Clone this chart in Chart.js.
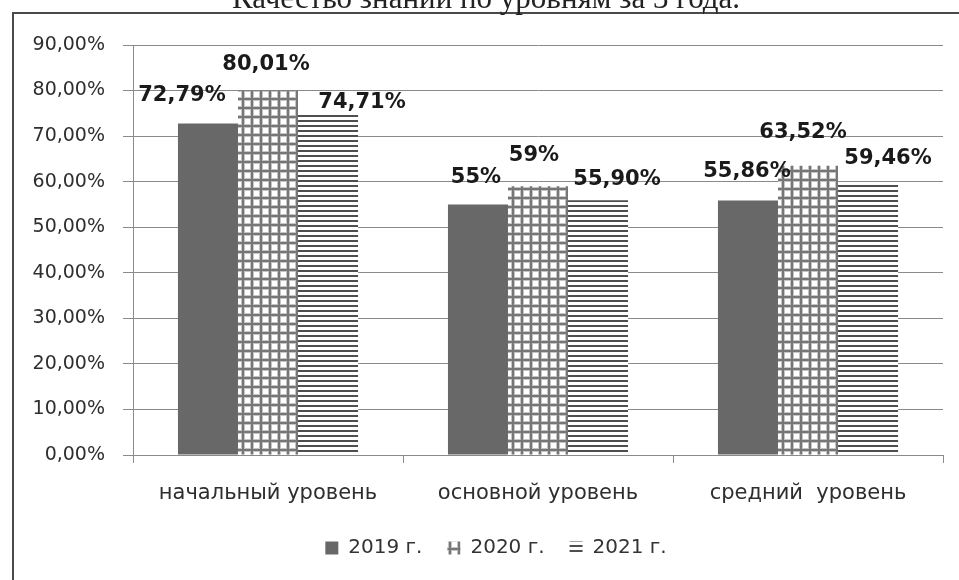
<!DOCTYPE html>
<html lang="ru">
<head>
<meta charset="utf-8">
<title>Качество знаний по уровням за 3 года</title>
<script src="https://cdn.jsdelivr.net/npm/chart.js@4.4.1/dist/chart.umd.min.js"></script>
<style>
    html, body { margin: 0; padding: 0; background: #fff; }
    canvas { display: block; }
</style>
</head>
<body>
<canvas id="chart" width="959" height="580"></canvas>
<script>
(function () {
    "use strict";

    // data
    const chartTitle = "Качество знаний по уровням за 3 года.";
    const levels = ["начальный уровень", "основной уровень", "средний  уровень"];
    const years = ["2019 г.", "2020 г.", "2021 г."];
    const values2019 = [72.79, 55, 55.86];
    const values2020 = [80.01, 59, 63.52];
    const values2021 = [74.71, 55.9, 59.46];
    const yMax = 90;
    const yStep = 10;

    // where each value label sits relative to its bar top: [dx, up]
    const labelShift = [
        [[-26, 28], [-2, 27], [-1, 29]],
        [[-2, 26], [-4, 31], [-5, 33]],
        [[34, 12], [19, 21], [20, 26]],
    ];

    const axisFont = "'DejaVu Sans', sans-serif";

    function formatValue(v) {
        const r = Math.round(v * 100) / 100;
        if (Number.isInteger(r)) return r + "%";
        return r.toFixed(2).replace(".", ",") + "%";
    }

    function makePattern(w, h, paint) {
        const c = document.createElement("canvas");
        c.width = w;
        c.height = h;
        paint(c.getContext("2d"));
        return document.getElementById("chart").getContext("2d").createPattern(c, "repeat");
    }

    // checkered fill for 2020
    const checks = makePattern(9, 9, (g) => {
        g.fillStyle = "#767676";
        g.fillRect(0, 0, 9, 9);
        g.fillStyle = "#c4c4c4";
        g.fillRect(1, 1, 7, 7);
        g.fillStyle = "#ffffff";
        g.fillRect(2, 2, 5, 5);
    });

    // horizontal lines for 2021
    const stripes = makePattern(4, 5, (g) => {
        g.fillStyle = "#ffffff";
        g.fillRect(0, 0, 4, 5);
        g.fillStyle = "#4e4e4e";
        g.fillRect(0, 0, 4, 2);
    });

    const sheet = {
        id: "sheet",
        beforeDraw(chart) {
            const ctx = chart.ctx;
            ctx.save();
            ctx.fillStyle = "#ffffff";
            ctx.fillRect(0, 0, chart.width, chart.height);
            ctx.strokeStyle = "#4a4a4a";
            ctx.lineWidth = 2;
            ctx.strokeRect(13, 13, chart.width + 20, chart.height + 20);
            ctx.font = "31px 'Liberation Serif', serif";
            ctx.fillStyle = "#222222";
            ctx.textAlign = "center";
            ctx.textBaseline = "alphabetic";
            ctx.fillText(chartTitle, 486, 8);
            ctx.restore();
        },
    };

    // legend in the scan sits a little right of centre
    const legendNudge = {
        id: "legendNudge",
        afterLayout(chart) {
            chart.legend.left += 18;
            chart.legend.right += 18;
        },
    };

    const valueLabels = {
        id: "valueLabels",
        afterDatasetsDraw(chart) {
            const ctx = chart.ctx;
            ctx.save();
            ctx.font = "bold 21px " + axisFont;
            ctx.fillStyle = "#1a1a1a";
            ctx.textAlign = "center";
            ctx.textBaseline = "middle";
            chart.data.datasets.forEach((ds, i) => {
                chart.getDatasetMeta(i).data.forEach((bar, j) => {
                    const [dx, up] = labelShift[i][j];
                    ctx.fillText(formatValue(ds.data[j]), bar.x + dx, bar.y - up);
                });
            });
            ctx.restore();
        },
    };

    const barOpts = {
        borderWidth: 0,
        categoryPercentage: 0.667,
        barPercentage: 1,
    };

    new Chart(document.getElementById("chart"), {
        type: "bar",
        data: {
            labels: levels,
            datasets: [
                { label: years[0], data: values2019, backgroundColor: "#686868", ...barOpts },
                { label: years[1], data: values2020, backgroundColor: checks, ...barOpts },
                { label: years[2], data: values2021, backgroundColor: stripes, ...barOpts },
            ],
        },
        options: {
            responsive: false,
            animation: false,
            events: [],
            layout: {
                padding: { left: 13, top: 45, right: 16, bottom: 12 },
            },
            plugins: {
                legend: {
                    position: "bottom",
                    labels: {
                        boxWidth: 13,
                        boxHeight: 13,
                        padding: 25,
                        color: "#333333",
                        font: { family: axisFont, size: 20 },
                    },
                },
                tooltip: { enabled: false },
            },
            scales: {
                x: {
                    grid: {
                        offset: true,
                        drawOnChartArea: false,
                        tickLength: 8,
                        color: "#8a8a8a",
                    },
                    border: { color: "#8a8a8a" },
                    ticks: {
                        padding: 18,
                        maxRotation: 0,
                        autoSkip: false,
                        color: "#2e2e2e",
                        font: { family: axisFont, size: 21 },
                    },
                    afterFit(scale) {
                        scale.height = 58;
                    },
                },
                y: {
                    min: 0,
                    max: yMax,
                    grid: { color: "#8a8a8a", tickLength: 10 },
                    border: { display: true, color: "#8a8a8a" },
                    ticks: {
                        stepSize: yStep,
                        padding: 18,
                        color: "#2e2e2e",
                        font: { family: axisFont, size: 19 },
                        callback: (v) => v.toFixed(2).replace(".", ",") + "%",
                    },
                    afterFit(scale) {
                        scale.width = 120;
                    },
                },
            },
        },
        plugins: [sheet, legendNudge, valueLabels],
    });
})();
</script>
</body>
</html>
